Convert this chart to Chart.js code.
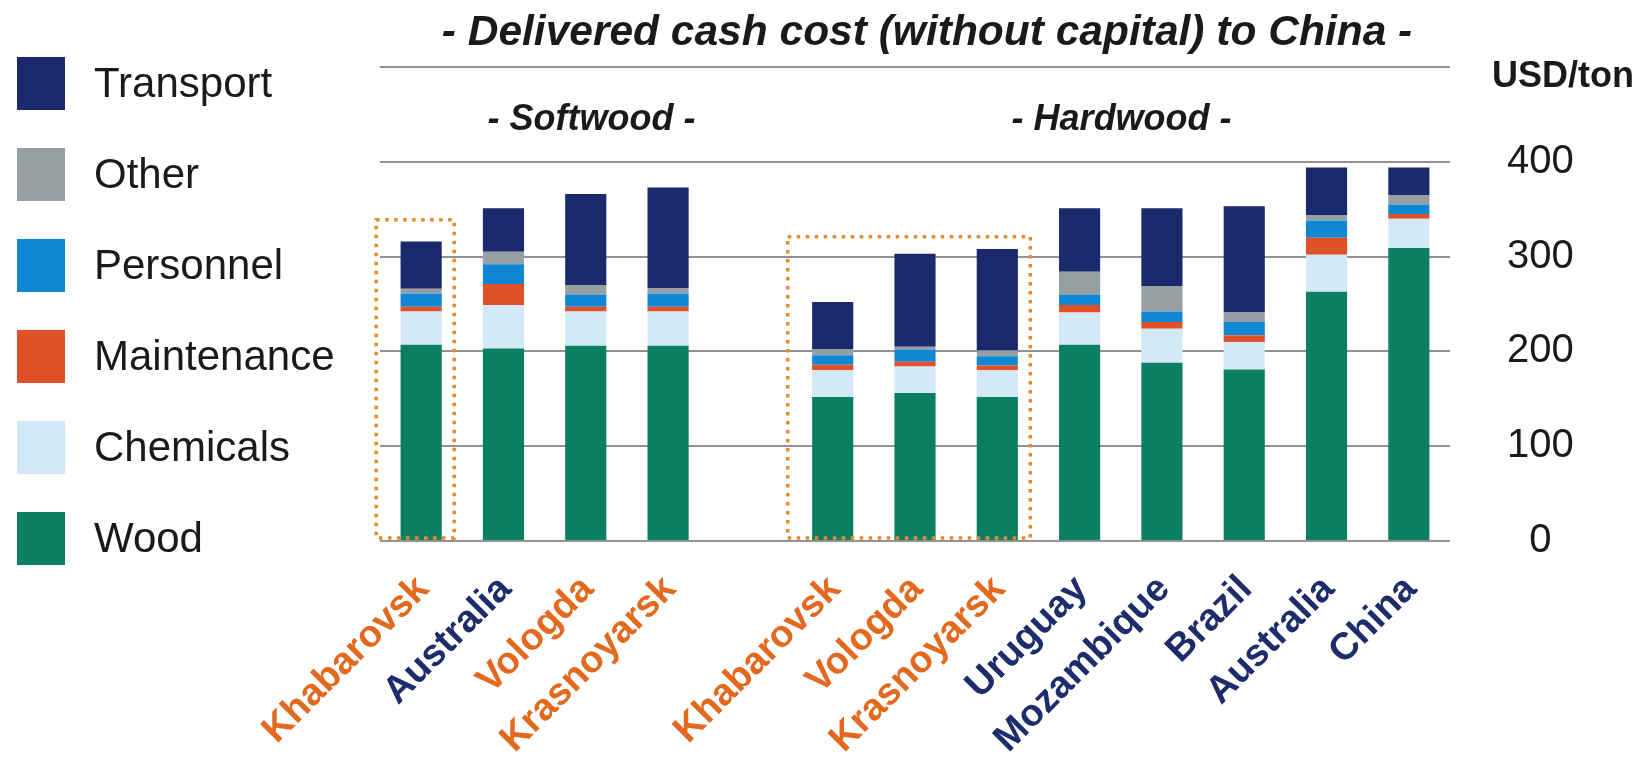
<!DOCTYPE html>
<html>
<head>
<meta charset="utf-8">
<title>Delivered cash cost to China</title>
<script src="https://cdn.jsdelivr.net/npm/chart.js@4.4.1/dist/chart.umd.min.js"></script>
<style>
  html, body { margin: 0; padding: 0; background: #fff; }
  #wrap { width: 1648px; height: 757px; position: relative; }
</style>
</head>
<body>
<div id="wrap"><canvas id="cost"></canvas></div>
<script>
// mills, left to right ('' is the gap between softwood and hardwood)
const mills = ['Khabarovsk', 'Australia', 'Vologda', 'Krasnoyarsk', '',
  'Khabarovsk', 'Vologda', 'Krasnoyarsk', 'Uruguay', 'Mozambique', 'Brazil', 'Australia', 'China']
const russian = [true, false, true, true, false, true, true, true, false, false, false, false, false]

// USD/ton
const wood        = [207, 203, 206, 206, null, 152, 156, 152, 207, 188, 181, 263, 309]
const chemicals   = [ 35,  46,  36,  36, null,  28,  28,  28,  34,  36,  29,  39,  31]
const maintenance = [  5,  22,   5,   5, null,   6,   5,   5,   8,   7,   7,  18,   5]
const personnel   = [ 14,  21,  13,  14, null,  10,  13,  10,  11,  11,  14,  18,  10]
const other       = [  5,  13,  10,   6, null,   6,   3,   6,  24,  27,  10,   6,  10]
const transport   = [ 50,  46,  96, 106, null,  50,  98, 107,  67,  82, 112,  50,  29]

const yMax = 500
const yStep = 100

const title = '- Delivered cash cost (without capital) to China -'
const groups = ['- Softwood -', '- Hardwood -']
const groupAt = [2.07, 8.51]   // category position the group label sits over

// dotted boxes round the Russian mills
const boxFrom = [0, 5]
const boxTo = [0, 7]
const boxTop = [339, 321]

const FONT = '"Liberation Sans", Arial, Helvetica, sans-serif'
const ORANGE = '#e2691d'
const NAVY = '#1d2c6b'

Chart.defaults.font.family = FONT
Chart.defaults.color = '#1a1a1a'

const sideLegend = {
  id: 'sideLegend',
  afterDraw(chart) {
    const ctx = chart.ctx
    const sets = chart.data.datasets.slice().reverse()
    ctx.save()
    ctx.font = '42px ' + FONT
    ctx.textBaseline = 'middle'
    ctx.textAlign = 'left'
    sets.forEach((ds, i) => {
      const top = 57 + i * 91
      ctx.fillStyle = ds.backgroundColor
      ctx.fillRect(17, top, 48, 53)
      ctx.fillStyle = '#1a1a1a'
      ctx.fillText(ds.label, 94, top + 28)
    })
    ctx.restore()
  }
}

const extras = {
  id: 'extras',
  afterDatasetsDraw(chart) {
    const ctx = chart.ctx
    const x = chart.scales.x
    const y = chart.scales.y
    ctx.save()

    // dotted highlight boxes
    ctx.strokeStyle = '#e8892b'
    ctx.lineWidth = 3.5
    ctx.setLineDash([3.5, 5.5])
    boxFrom.forEach((from, i) => {
      const l = x.getPixelForValue(from) - 45
      const r = x.getPixelForValue(boxTo[i]) + 33
      const t = y.getPixelForValue(boxTop[i])
      const b = chart.chartArea.bottom - 3
      ctx.strokeRect(l, t, r - l, b - t)
    })
    ctx.setLineDash([])

    ctx.fillStyle = '#1a1a1a'
    ctx.textAlign = 'center'
    ctx.textBaseline = 'middle'

    // main heading
    ctx.font = 'italic bold 42.5px ' + FONT
    ctx.fillText(title, 927, 33)

    // group headings
    ctx.font = 'italic bold 36px ' + FONT
    groups.forEach((g, i) => {
      ctx.fillText(g, x.getPixelForValue(groupAt[i]), y.getPixelForValue(444))
    })

    // unit above the value axis
    ctx.font = 'bold 36px ' + FONT
    ctx.fillText('USD/ton', 1563, 77)
    ctx.restore()
  }
}

new Chart('cost', {
  type: 'bar',
  data: {
    labels: mills,
    datasets: [
      { label: 'Wood', data: wood, backgroundColor: '#0a7f62' },
      { label: 'Chemicals', data: chemicals, backgroundColor: '#d3e9f7' },
      { label: 'Maintenance', data: maintenance, backgroundColor: '#df5228' },
      { label: 'Personnel', data: personnel, backgroundColor: '#0f87d5' },
      { label: 'Other', data: other, backgroundColor: '#989fa3' },
      { label: 'Transport', data: transport, backgroundColor: '#1a2a6c' }
    ]
  },
  options: {
    responsive: true,
    maintainAspectRatio: false,
    animation: false,
    datasets: {
      bar: { categoryPercentage: 1, barPercentage: 0.5, borderWidth: 0 }
    },
    layout: { padding: { left: 380, right: 0, top: 67, bottom: 0 } },
    plugins: {
      legend: { display: false },
      tooltip: { enabled: false },
      title: { display: false }
    },
    scales: {
      x: {
        stacked: true,
        grid: { display: false, drawTicks: false },
        border: { display: false },
        afterFit: s => { s.height = 216 },
        ticks: {
          autoSkip: false,
          minRotation: 45,
          maxRotation: 45,
          padding: 26,
          labelOffset: 2,
          font: { size: 38, weight: 'bold' },
          color: c => russian[c.index] ? ORANGE : NAVY
        }
      },
      y: {
        stacked: true,
        position: 'right',
        min: 0,
        max: yMax,
        // invisible tick marks push the labels out to the right
        grid: { color: '#929292', lineWidth: 2, drawTicks: true, tickLength: 57, tickColor: 'rgba(0,0,0,0)' },
        border: { display: false },
        afterFit: s => { s.width = 198 },
        ticks: {
          stepSize: yStep,
          padding: 0,
          crossAlign: 'center',
          font: { size: 40 },
          color: '#1a1a1a',
          callback: v => v === yMax ? '' : v
        }
      }
    }
  },
  plugins: [sideLegend, extras]
})
</script>
</body>
</html>
